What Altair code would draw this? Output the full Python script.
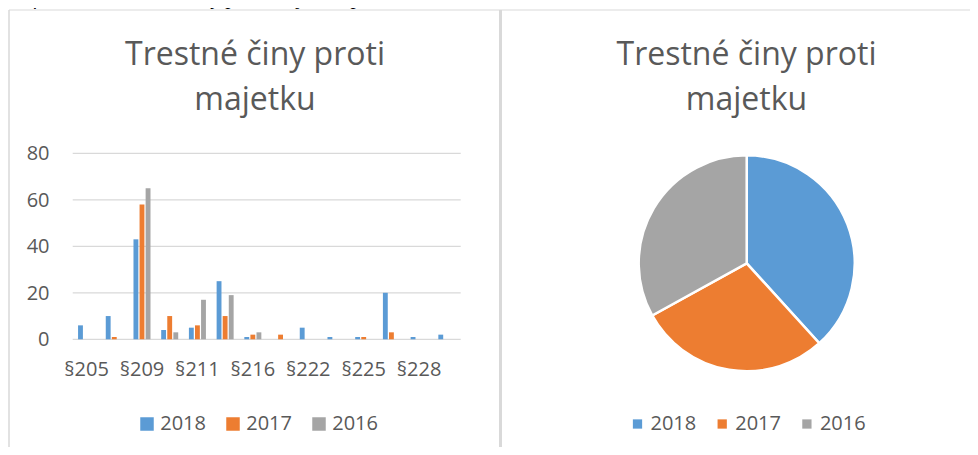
import altair as alt
import pandas as pd

# ---- data ----
categories = ["§205", "§206", "§209", "§210", "§211", "§214", "§216",
              "§220", "§222", "§224", "§225", "§227", "§228", "§230"]
shown_labels = ["§205", "§209", "§211", "§216", "§222", "§225", "§228"]
years = ["2018", "2017", "2016"]
values_2018 = [6, 10, 43, 4, 5, 25, 1, 0, 5, 1, 1, 20, 1, 2]
values_2017 = [0, 1, 58, 10, 6, 10, 2, 2, 0, 0, 1, 3, 0, 0]
values_2016 = [0, 0, 65, 3, 17, 19, 3, 0, 0, 0, 0, 0, 0, 0]
y_ticks = [0, 20, 40, 60, 80]
colors = ["#5B9BD5", "#ED7D31", "#A5A5A5"]
title_lines = ["Trestné činy proti", "majetku"]
caption = "Graf 14 a 15: Trestné činy proti majetku spáchané v letech 2016-2018"

rows = []
for yi, (yr, vals) in enumerate(zip(years, [values_2018, values_2017, values_2016])):
    for c, v in zip(categories, vals):
        rows.append({"cat": c, "year": yr, "v": v, "idx": yi})
bars_df = pd.DataFrame(rows)
ticks_df = pd.DataFrame({"t": y_ticks})
labels_df = pd.DataFrame({"cat": shown_labels})
one = pd.DataFrame({"k": [0]})

# ---- layout (pixels inside the view) ----
W, H = 962, 439
X0, X1 = 64.7, 452.7
Y0, Y80 = 331.3, 145.3
TXT = "#595959"
FONT = "Open Sans"

x_scale = alt.Scale(domain=categories, range=[X0, X1], paddingInner=0.386, paddingOuter=0.193)
y_scale = alt.Scale(domain=[0, 80], range=[Y0, Y80])

frame_top = alt.Chart(one).mark_rule(color="#d9d9d9", strokeWidth=1).encode(
    x=alt.value(1), x2=alt.value(W), y=alt.value(2))
frame_left = alt.Chart(one).mark_rule(color="#d9d9d9", strokeWidth=1.5).encode(
    x=alt.value(1), y=alt.value(2), y2=alt.value(H))
frame_mid = alt.Chart(one).mark_rule(color="#d9d9d9", strokeWidth=3).encode(
    x=alt.value(492.5), y=alt.value(2), y2=alt.value(H))

grid = alt.Chart(ticks_df).mark_rule(color="#d9d9d9", strokeWidth=1.2).encode(
    y=alt.Y("t:Q", scale=y_scale, axis=None),
    x=alt.value(X0), x2=alt.value(X1))

y_labels = alt.Chart(ticks_df).mark_text(
    align="right", baseline="middle", font=FONT, fontSize=20, color=TXT, dy=1
).encode(y=alt.Y("t:Q", scale=y_scale, axis=None), x=alt.value(41.5), text=alt.Text("t:Q"))

x_labels = alt.Chart(labels_df).mark_text(
    align="center", baseline="alphabetic", font=FONT, fontSize=20, color=TXT
).encode(x=alt.X("cat:N", scale=x_scale, axis=None), y=alt.value(368), text="cat:N")

bars = alt.Chart(bars_df).transform_filter("datum.v > 0").mark_bar().encode(
    x=alt.X("cat:N", scale=x_scale, axis=None),
    xOffset=alt.XOffset("year:N", scale=alt.Scale(domain=years, paddingInner=0.2)),
    y=alt.Y("v:Q", scale=y_scale, axis=None),
    color=alt.Color("year:N", scale=alt.Scale(domain=years, range=colors),
                    legend=alt.Legend(orient="none", legendX=129, legendY=406,
                                      direction="horizontal", title=None,
                                      symbolType="square", symbolSize=182,
                                      symbolStrokeWidth=0, labelFontSize=20,
                                      labelFont=FONT, labelColor=TXT,
                                      labelOffset=3.2, columnPadding=17, padding=0)),
)

pie = alt.Chart(bars_df).mark_arc(radius=108, stroke="white", strokeWidth=2.5).encode(
    theta=alt.Theta("sum(v):Q", stack=True),
    fill=alt.Fill("year:N", scale=alt.Scale(domain=years, range=colors),
                  legend=alt.Legend(orient="none", legendX=619.5, legendY=406,
                                    direction="horizontal", title=None,
                                    symbolType="square", symbolSize=86,
                                    symbolStrokeWidth=0, labelFontSize=20,
                                    labelFont=FONT, labelColor=TXT,
                                    labelOffset=3, columnPadding=15.7, padding=0)),
    order=alt.Order("min(idx):Q"),
    x=alt.value(738.7), y=alt.value(255.3),
)

title_left = alt.Chart(one).mark_text(
    text=title_lines, font=FONT, fontSize=32, color=TXT,
    align="center", baseline="alphabetic", lineHeight=45
).encode(x=alt.value(247), y=alt.value(57))
title_right = alt.Chart(one).mark_text(
    text=title_lines, font=FONT, fontSize=32, color=TXT,
    align="center", baseline="alphabetic", lineHeight=45
).encode(x=alt.value(738.5), y=alt.value(57))

cap = alt.Chart(one).mark_text(
    text=caption, font="Liberation Serif", fontStyle="italic", fontSize=21,
    color="black", align="left", baseline="alphabetic"
).encode(x=alt.value(-8), y=alt.value(-3.7))

chart = alt.layer(
    frame_top, frame_left, frame_mid, grid, bars, y_labels, x_labels, pie,
    title_left, title_right, cap
).resolve_legend(color="independent", fill="independent").properties(
    width=W, height=H, padding=0,
    autosize=alt.AutoSizeParams(type="none"),
).configure_view(stroke=None)

chart.save("out.html", embed_options={"renderer": "svg", "actions": False})
